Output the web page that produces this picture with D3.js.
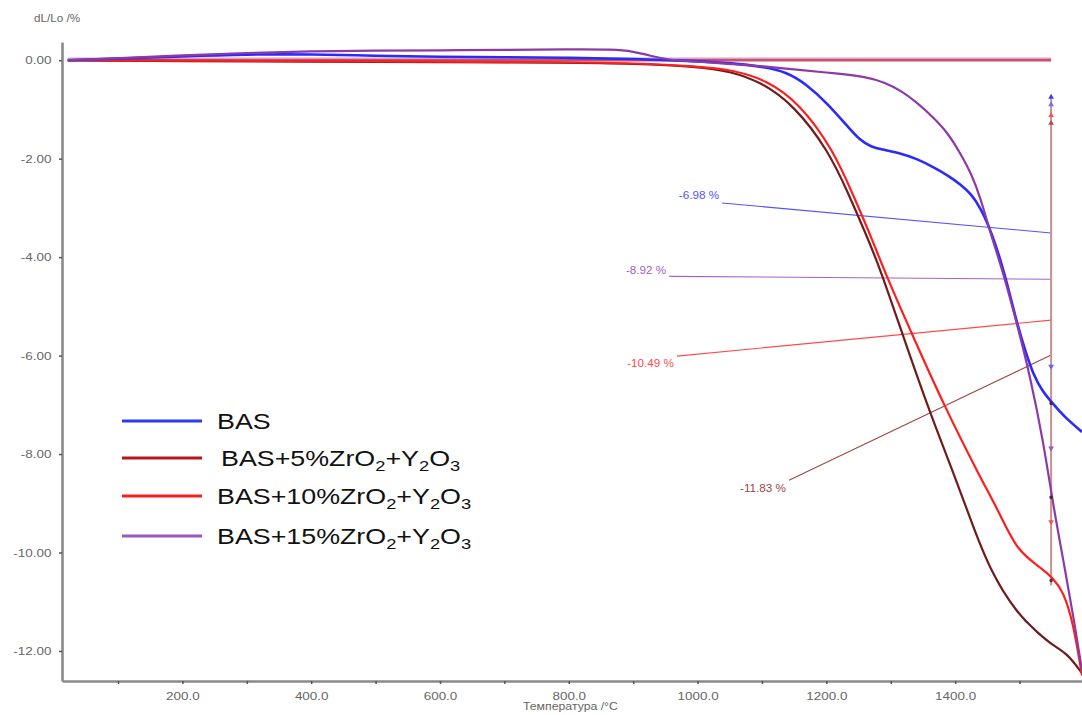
<!DOCTYPE html>
<html>
<head>
<meta charset="utf-8">
<script src="https://cdn.jsdelivr.net/npm/d3@7"></script>
<style>
  body { margin: 0; background: #fff; }
  text { font-family: "Liberation Sans", Arial, sans-serif; }
</style>
</head>
<body>
<div id="chart"></div>
<script>
// dilatometer curves: temperature (°C) vs dL/Lo (%)
let tempBAS = [22, 100, 200, 300, 400, 500, 600, 700, 800, 900, 1000, 1055, 1100, 1139, 1170, 1201, 1230, 1252, 1270, 1285, 1315, 1340, 1366, 1390, 1408, 1425, 1439, 1457, 1477, 1496, 1510, 1521, 1535, 1552, 1570, 1597];
let dlBAS = [0, 0.03, 0.08, 0.12, 0.12, 0.09, 0.07, 0.06, 0.05, 0.03, -0.02, -0.06, -0.13, -0.24, -0.5, -0.87, -1.3, -1.63, -1.76, -1.81, -1.89, -2.0, -2.17, -2.35, -2.52, -2.72, -2.99, -3.5, -4.33, -5.35, -5.95, -6.37, -6.72, -6.98, -7.25, -7.55];

let temp5 = [22, 200, 400, 600, 800, 900, 1000, 1050, 1100, 1150, 1203, 1234, 1262, 1284, 1319, 1361, 1398, 1423, 1454, 1496, 1530, 1552, 1574, 1597];
let dl5 = [0, -0.02, -0.03, -0.04, -0.05, -0.07, -0.13, -0.22, -0.45, -0.92, -1.83, -2.7, -3.55, -4.25, -5.6, -7.17, -8.4, -9.3, -10.37, -11.24, -11.65, -11.89, -12.05, -12.45];

let temp10 = [22, 200, 400, 600, 800, 900, 1000, 1055, 1107, 1159, 1211, 1242, 1270, 1293, 1336, 1383, 1436, 1471, 1496, 1532, 1553, 1568, 1583, 1597];
let dl10 = [0, -0.01, -0.02, -0.03, -0.04, -0.06, -0.12, -0.2, -0.4, -0.88, -1.83, -2.75, -3.6, -4.38, -5.65, -7.02, -8.4, -9.25, -9.96, -10.3, -10.53, -10.8, -11.4, -12.5];

let temp15 = [22, 100, 200, 300, 400, 500, 600, 700, 800, 870, 900, 930, 952, 1000, 1055, 1100, 1159, 1210, 1263, 1290, 1315, 1340, 1366, 1390, 1408, 1425, 1439, 1455, 1475, 1496, 1517, 1537, 1553, 1570, 1585, 1597];
let dl15 = [0, 0.04, 0.1, 0.15, 0.18, 0.2, 0.2, 0.21, 0.22, 0.22, 0.18, 0.08, 0.01, -0.03, -0.08, -0.12, -0.2, -0.26, -0.34, -0.45, -0.61, -0.85, -1.16, -1.5, -1.89, -2.3, -2.78, -3.52, -4.33, -5.35, -6.45, -7.75, -9.1, -10.3, -11.4, -12.4];

let seriesNames = ["BAS", "BAS+5%ZrO2+Y2O3", "BAS+10%ZrO2+Y2O3", "BAS+15%ZrO2+Y2O3"];
let curveColors = ["#2a2aff", "#6e1c1c", "#ff1e1e", "#8c3aa6"];
let legendColors = ["#2a3cf0", "#b8141e", "#f42020", "#9a5ab8"];

// shrinkage annotations drawn by the instrument software
let annLabels = ["-6.98 %", "-8.92 %", "-10.49 %", "-11.83 %"];
let annColors = ["#5252ff", "#a860c4", "#ff4a4a", "#9c4646"];
let annStartT = [1038, 956, 968, 1142];
let annStartV = [-2.9, -4.39, -6.01, -8.53];
let annTextV = [-2.74, -4.27, -6.16, -8.69];
let annEndV = [-3.51, -4.45, -5.28, -5.99];

let markerT = 1549;
let markerTopV = -0.75;
let markerBottomV = -10.67;
let markerV = [-0.75, -0.9, -1.12, -1.28, -6.22, -6.97, -7.88, -8.88, -9.38, -10.57];
let markerKind = ["up", "up", "up", "up", "down", "dot", "down", "dot", "down", "dot"];
let markerColor = ["#3a3aff", "#7070ff", "#ff5050", "#a05050", "#6060ff", "#333333", "#a050c0", "#333333", "#ff5050", "#553333"];

let xTicks = d3.range(100, 1600, 100);
let yTicks = [0, -2, -4, -6, -8, -10, -12];

let chart_width = 1082;
let chart_height = 715;
let stretch = 1.17; // the original picture is stretched sideways

let svg = d3.select("#chart").append("svg")
  .attr("width", chart_width)
  .attr("height", chart_height);

svg.append("rect").attr("width", chart_width).attr("height", chart_height).attr("fill", "#fff");

let x_scale = d3.scaleLinear().domain([13, 1597]).range([62, 1082]);
let y_scale = d3.scaleLinear().domain([-12.61, 0.37]).range([681, 42]);

//axes
let xAxis = svg.append("g")
  .attr("transform", "translate(0," + y_scale.range()[0] + ")")
  .call(d3.axisBottom(x_scale)
    .tickValues(xTicks)
    .tickFormat(d => d % 200 === 0 ? d.toFixed(1) : "")
    .tickSize(3).tickSizeOuter(0).tickPadding(8));

let yAxis = svg.append("g")
  .attr("transform", "translate(" + x_scale.range()[0] + ",0)")
  .call(d3.axisLeft(y_scale)
    .tickValues(yTicks)
    .tickFormat(d => d.toFixed(2))
    .tickSize(3).tickSizeOuter(0).tickPadding(6));

[xAxis, yAxis].forEach(function (ax) {
  ax.select(".domain").attr("stroke", "#8a8a8a").attr("stroke-width", 2.6);
  ax.selectAll(".tick line").attr("stroke", "#555").attr("stroke-width", 1.5);
  ax.selectAll(".tick text")
    .attr("fill", "#666")
    .attr("transform", "scale(" + stretch + ",1)")
    .style("font-size", "11.5px")
    .style("font-family", "'Liberation Sans', Arial, sans-serif");
});

svg.append("text")
  .attr("transform", "translate(34,22) scale(" + stretch + ",1)")
  .attr("fill", "#666")
  .style("font-size", "10px")
  .text("dL/Lo /%");

svg.append("text")
  .attr("transform", "translate(523,710) scale(" + stretch + ",1)")
  .attr("fill", "#666")
  .style("font-size", "10.5px")
  .text("Температура /°C");

// zero baselines drawn by the software
let baseT = [22, markerT];
svg.append("line")
  .attr("x1", x_scale(baseT[0])).attr("x2", x_scale(baseT[1]))
  .attr("y1", y_scale(0) - 2).attr("y2", y_scale(0) - 2)
  .attr("stroke", "#cfa2dc").attr("stroke-width", 1.6);
svg.append("line")
  .attr("x1", x_scale(baseT[0])).attr("x2", x_scale(baseT[1]))
  .attr("y1", y_scale(0)).attr("y2", y_scale(0))
  .attr("stroke", "#d2505e").attr("stroke-width", 2.4);

// annotation leader lines
annLabels.forEach(function (lab, i) {
  svg.append("line")
    .attr("x1", x_scale(annStartT[i])).attr("y1", y_scale(annStartV[i]))
    .attr("x2", x_scale(markerT)).attr("y2", y_scale(annEndV[i]))
    .attr("stroke", annColors[i]).attr("stroke-width", 1.1);
  svg.append("text")
    .attr("transform", "translate(" + (x_scale(annStartT[i]) - 3) + "," + (y_scale(annTextV[i]) + 4) + ") scale(" + stretch + ",1)")
    .attr("text-anchor", "end")
    .attr("fill", annColors[i])
    .style("font-size", "10px")
    .text(lab);
});

// vertical marker line
svg.append("line")
  .attr("x1", x_scale(markerT)).attr("x2", x_scale(markerT))
  .attr("y1", y_scale(markerTopV)).attr("y2", y_scale(markerBottomV))
  .attr("stroke", "#c99090").attr("stroke-width", 2);

// curves
let allT = [tempBAS, temp5, temp10, temp15];
let allV = [dlBAS, dl5, dl10, dl15];
let line = d3.line()
  .x(d => x_scale(d[0]))
  .y(d => y_scale(d[1]))
  .curve(d3.curveBasis); // smooths small reading errors

let drawOrder = [1, 2, 0, 3];
drawOrder.forEach(function (i) {
  let pts = allT[i].map((t, j) => [t, allV[i][j]]);
  svg.append("path")
    .attr("d", line(pts))
    .attr("fill", "none")
    .attr("stroke", curveColors[i])
    .attr("stroke-width", i === 0 ? 2.6 : 2.2);
});

// small markers on the vertical line
markerV.forEach(function (v, i) {
  let sym = markerKind[i] === "dot" ? d3.symbolCircle : d3.symbolTriangle;
  svg.append("path")
    .attr("d", d3.symbol().type(sym).size(markerKind[i] === "dot" ? 10 : 14)())
    .attr("transform", "translate(" + x_scale(markerT) + "," + y_scale(v) + ")" + (markerKind[i] === "down" ? " rotate(180)" : ""))
    .attr("fill", markerColor[i]);
});

// legend
let legendX = 122;
let legendY = [421, 458, 496, 536];
let legendTextX = [217, 221, 217, 217];

function addLabel(g, name) {
  // digits right after a letter become subscripts (ZrO2, Y2O3)
  let parts = name.split(/(?<=[A-Za-z])(\d)/);
  parts.forEach(function (p, k) {
    if (p === "") return;
    let sub = k % 2 === 1;
    g.append("tspan")
      .attr("dy", sub ? 5 : (k > 0 ? -5 : 0))
      .style("font-size", sub ? "15px" : "22px")
      .text(p);
  });
}

seriesNames.forEach(function (name, i) {
  svg.append("line")
    .attr("x1", legendX).attr("x2", legendX + 80)
    .attr("y1", legendY[i]).attr("y2", legendY[i])
    .attr("stroke", legendColors[i]).attr("stroke-width", 3);
  let t = svg.append("text")
    .attr("transform", "translate(" + legendTextX[i] + "," + (legendY[i] + 8) + ") scale(1.22,1)")
    .attr("fill", "#111");
  addLabel(t, name);
});
</script>
</body>
</html>
